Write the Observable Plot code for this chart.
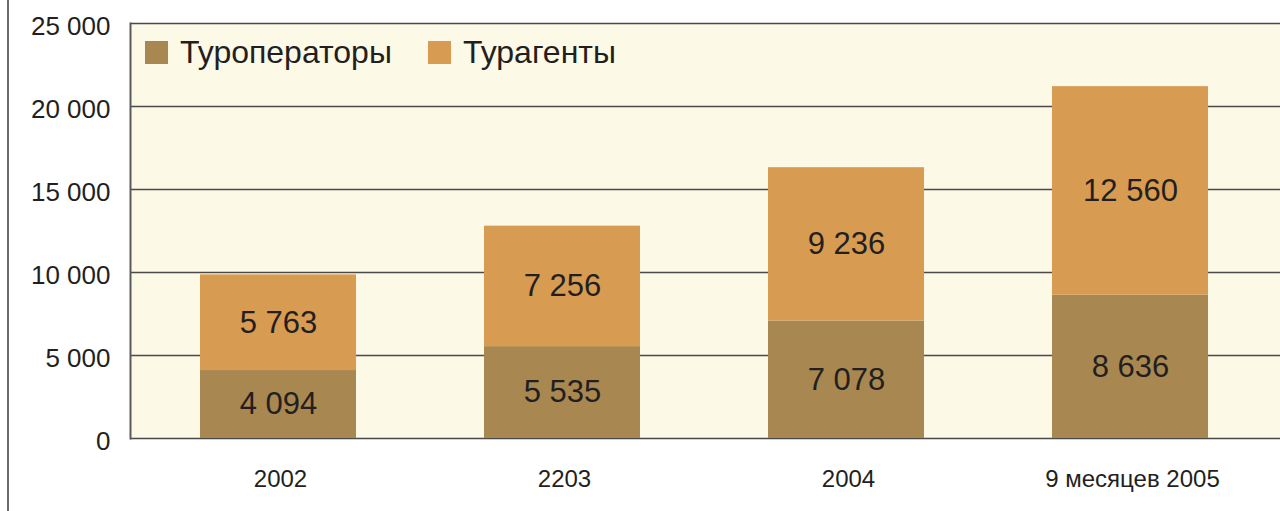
<!DOCTYPE html>
<html>
<head>
<meta charset="utf-8">
<script src="https://cdn.jsdelivr.net/npm/d3@7"></script>
<script src="https://cdn.jsdelivr.net/npm/@observablehq/plot@0.6"></script>
<style>
  html, body { margin: 0; padding: 0; background: #ffffff; }
  #wrap { position: relative; width: 1280px; height: 511px; overflow: hidden;
          font-family: "Liberation Sans", Arial, Helvetica, sans-serif; color: #231f20; }
  #pageline { position: absolute; left: 7px; top: 0; width: 2px; height: 511px; background: #6b6b6b; }
  #legend { position: absolute; left: 145px; top: 36px; display: flex; align-items: center;
            font-size: 32px; line-height: 32px; }
  .item { display: flex; align-items: center; margin-right: 36px; }
  .sw { width: 23px; height: 23px; margin-right: 12px; }
</style>
</head>
<body>
<div id="wrap">
  <div id="pageline"></div>
  <div id="chart"></div>
  <div id="legend"></div>
</div>
<script>
const categories = ["2002", "2203", "2004", "9 месяцев 2005"];
const series = ["Туроператоры", "Турагенты"];
const operators = [4094, 5535, 7078, 8636];
const agents = [5763, 7256, 9236, 12560];
const yTicks = [0, 5000, 10000, 15000, 20000, 25000];
const colors = ["#a88850", "#d89b52"];

const fmt = v => d3.format(",")(v).replace(/,/g, " ");

const data = categories.flatMap((c, i) => [
  {year: c, series: series[0], value: operators[i]},
  {year: c, series: series[1], value: agents[i]}
]);

const chart = Plot.plot({
  width: 1280,
  height: 511,
  marginTop: 23,
  marginBottom: 73,
  marginLeft: 130,
  marginRight: 0,
  style: {fontFamily: "'Liberation Sans', Arial, Helvetica, sans-serif", color: "#231f20", background: "transparent"},
  x: {domain: categories, range: [136, 1273], paddingInner: 0.45, paddingOuter: 0.225, align: 0.5},
  y: {domain: [0, 25000]},
  color: {domain: series, range: colors},
  marks: [
    Plot.frame({fill: "#fdf9e7", stroke: "none"}),
    Plot.ruleY(yTicks, {stroke: "#4a4a4a", strokeWidth: 1.4}),
    Plot.frame({anchor: "left", stroke: "#5a5a5a", strokeWidth: 2}),
    Plot.barY(data, {x: "year", y: "value", fill: "series"}),
    Plot.text(data, Plot.stackY({x: "year", y: "value", z: "series", text: d => fmt(d.value), fontSize: 31, fill: "#231f20"})),
    Plot.axisX({tickSize: 0, tickPadding: 31, fontSize: 24, label: null, fill: "#231f20", dx: 2}),
    Plot.axisY({ticks: yTicks, tickSize: 0, tickPadding: 20, fontSize: 26, tickFormat: fmt, label: null, dy: 3, fill: "#231f20"})
  ]
});
document.getElementById("chart").appendChild(chart);

const legend = document.getElementById("legend");
series.forEach((s, i) => {
  const item = document.createElement("div");
  item.className = "item";
  const sw = document.createElement("span");
  sw.className = "sw";
  sw.style.background = colors[i];
  const t = document.createElement("span");
  t.textContent = s;
  item.appendChild(sw);
  item.appendChild(t);
  legend.appendChild(item);
});
</script>
</body>
</html>
